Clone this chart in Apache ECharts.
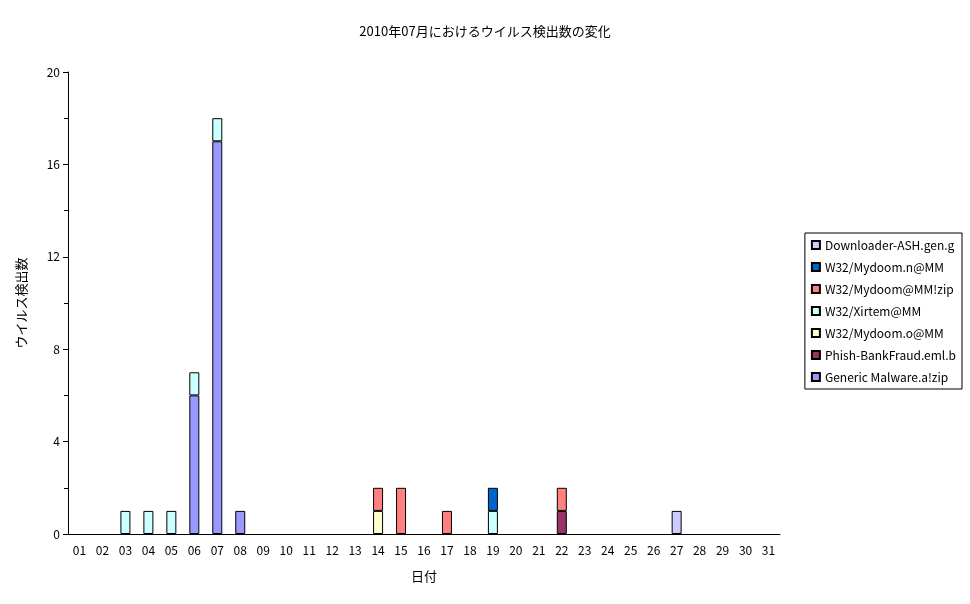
<!DOCTYPE html>
<html><head><meta charset="utf-8">
<script src="https://cdn.jsdelivr.net/npm/echarts@6/dist/echarts.min.js"></script>
<style>html,body{margin:0;padding:0;background:#fff}#c{width:970px;height:604px}</style>
</head><body><div id="c"></div>
<script>
const days = ['01','02','03','04','05','06','07','08','09','10','11','12','13','14','15','16','17','18','19','20','21','22','23','24','25','26','27','28','29','30','31'];
const generic   = [0,0,0,0,0,6,17,1,0,0,0,0,0,0,0,0,0,0,0,0,0,0,0,0,0,0,0,0,0,0,0];
const phish     = [0,0,0,0,0,0,0,0,0,0,0,0,0,0,0,0,0,0,0,0,0,1,0,0,0,0,0,0,0,0,0];
const mydoomO   = [0,0,0,0,0,0,0,0,0,0,0,0,0,1,0,0,0,0,0,0,0,0,0,0,0,0,0,0,0,0,0];
const xirtem    = [0,0,1,1,1,1,1,0,0,0,0,0,0,0,0,0,0,0,1,0,0,0,0,0,0,0,0,0,0,0,0];
const mydoomZip = [0,0,0,0,0,0,0,0,0,0,0,0,0,1,2,0,1,0,0,0,0,1,0,0,0,0,0,0,0,0,0];
const mydoomN   = [0,0,0,0,0,0,0,0,0,0,0,0,0,0,0,0,0,0,1,0,0,0,0,0,0,0,0,0,0,0,0];
const downloader= [0,0,0,0,0,0,0,0,0,0,0,0,0,0,0,0,0,0,0,0,0,0,0,0,0,0,1,0,0,0,0];
const seriesDef = [
  ['Generic Malware.a!zip', generic, '#9999ff'],
  ['Phish-BankFraud.eml.b', phish, '#993366'],
  ['W32/Mydoom.o@MM', mydoomO, '#ffffcc'],
  ['W32/Xirtem@MM', xirtem, '#ccffff'],
  ['W32/Mydoom@MM!zip', mydoomZip, '#ff8080'],
  ['W32/Mydoom.n@MM', mydoomN, '#0066cc'],
  ['Downloader-ASH.gen.g', downloader, '#ccccff']
];
const F = '"Noto Sans CJK JP", sans-serif';
const chart = echarts.init(document.getElementById('c'));
chart.setOption({
  animation:false,
  textStyle:{fontFamily:F,color:'#000'},
  title:{text:'2010年07月におけるウイルス検出数の変化',left:'center',top:20,textStyle:{fontSize:13,fontWeight:'normal',fontFamily:F,color:'#000'}},
  grid:{left:68,right:190,top:72,bottom:70},
  legend:{orient:'vertical',right:8,top:233,itemWidth:8,itemHeight:8,itemGap:10,
    data:seriesDef.map(s=>s[0]).reverse(),
    borderColor:'#000',borderWidth:1,padding:[6,6,6,6],
    textStyle:{fontSize:12,fontFamily:F,color:'#000'},icon:'rect'},
  xAxis:{type:'category',data:days,name:'日付',nameLocation:'middle',nameGap:36,
    nameTextStyle:{fontSize:13,color:'#000'},
    axisLine:{lineStyle:{color:'#000'}},axisTick:{alignWithLabel:false,lineStyle:{color:'#000'}},
    axisLabel:{color:'#000',fontSize:12,margin:10}},
  yAxis:{type:'value',min:0,max:20,interval:4,name:'ウイルス検出数',nameLocation:'middle',nameGap:40,
    nameTextStyle:{fontSize:13,color:'#000'},
    axisLine:{show:true,lineStyle:{color:'#000'}},axisTick:{show:true,lineStyle:{color:'#000'}},
    minorTick:{show:true,splitNumber:2,length:4,lineStyle:{color:'#000'}},
    splitLine:{show:false},axisLabel:{color:'#000',fontSize:12}},
  series:seriesDef.map(s=>({name:s[0],type:'bar',stack:'a',barWidth:10,
    data:s[1].map(v=>v===0?null:v),
    itemStyle:{color:s[2],borderColor:'#000',borderWidth:1}}))
});
</script></body></html>
